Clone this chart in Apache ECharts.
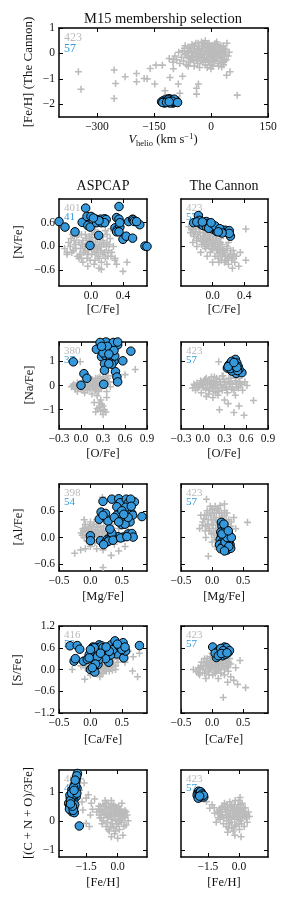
<!DOCTYPE html>
<html><head><meta charset="utf-8">
<script src="https://cdn.jsdelivr.net/npm/echarts@6/dist/echarts.min.js"></script>
<style>html,body{margin:0;padding:0;background:#fff}#c{width:291px;height:912px}</style>
</head><body><div id="c"></div>
<script>
// ---------------- data ----------------
const topGray = [[-349,-0.72],[-342,-1.41],[-255,-0.65],[-251,-1.18],[-255,-1.77],[-226,-0.92],[-196,-0.79],[-196,-1.11],[-160,-0.59],[-176,-0.99],[-168,-1.0],[-145,-0.46],[-148,-1.2],[-128,-0.46],[-121,-1.47],[-108,-0.95],[-99,-0.6],[-99,-0.24],[-86,-1.2],[-82,-1.57],[-75,-0.9],[-38,-1.37],[-33,-1.2],[-38,-1.6],[69,-1.64],[50,-0.72],[41,-0.86],[28,-0.53],
[-110,-0.2],[-100,-0.35],[-95,-0.1],[-90,-0.25],[-85,0.05],[-82,-0.4],[-78,-0.15],[-75,0.1],[-72,-0.3],[-70,0.2],[-68,-0.05],[-65,-0.45],[-62,0.05],[-60,0.25],[-58,-0.2],[-55,-0.35],[-52,0.1],[-50,0.35],[-48,-0.1],[-45,0.2],[-44,-0.5],[-42,0.0],[-40,0.4],[-38,-0.25],[-36,0.15],[-35,-0.4],[-32,0.3],[-30,-0.05],[-28,0.1],[-26,-0.3],[-25,0.45],[-22,0.2],[-20,-0.15],[-18,0.0],[-16,0.35],[-15,-0.45],[-12,0.1],[-10,-0.25],[-8,0.25],[-6,-0.05],[-5,0.4],[-3,-0.35],[0,0.15],[2,-0.15],[4,0.3],[5,-0.5],[8,0.05],[10,-0.3],[12,0.2],[14,-0.1],[16,0.35],[18,-0.4],[20,0.0],[22,0.25],[25,-0.2],[27,0.1],[30,-0.35],[32,0.3],[35,-0.05],[38,0.15],[40,-0.25],[42,0.4],[45,-0.1],[48,0.05],[-60,-0.5],[-30,-0.55],[0,-0.6],[15,0.45],[-15,0.5],[-45,-0.3],[-25,0.0],[-5,0.05],[10,0.1],
[-65,0.0],[-60,-0.15],[-55,0.2],[-50,-0.25],[-47,0.05],[-43,0.3],[-40,-0.15],[-37,0.0],[-33,-0.2],[-31,0.15],[-27,-0.1],[-24,0.3],[-21,-0.35],[-19,0.08],[-17,-0.2],[-14,0.22],[-11,-0.05],[-9,0.35],[-7,-0.3],[-4,0.15],[-2,-0.1],[1,0.3],[3,0.0],[6,-0.25],[7,0.2],[9,-0.05],[11,0.38],[13,-0.2],[15,0.1],[17,-0.3],[19,0.2],[21,-0.1],[23,0.05],[26,0.3],[28,-0.15],[31,0.0],[34,0.2],[36,-0.3],[39,0.05],[-52,-0.1],[-58,0.1],[-34,0.4],[-20,0.4],[0,-0.45],[20,-0.5],[33,-0.45],[-68,0.3],[-10,-0.55]];
const topBlue = [[-130,-1.9],[-125,-1.85],[-122,-1.95],[-118,-1.8],[-115,-1.88],[-112,-1.93],[-110,-1.78],[-108,-1.85],[-105,-1.9],[-103,-1.82],[-100,-1.95],[-98,-1.87],[-95,-1.92],[-92,-1.85],[-90,-1.9],[-120,-1.88],[-113,-1.83],[-107,-1.95],[-97,-1.8],[-127,-1.93],[-117,-1.92],[-102,-1.88],[-88,-1.93],[-110,-1.9]];

const nAspGray = [[-0.33,-0.05],[-0.3,-0.2],[-0.28,0.1],[-0.25,0.2],[-0.22,-0.1],[-0.2,0.05],[-0.18,0.25],[-0.17,-0.25],[-0.15,0.1],[-0.13,-0.05],[-0.12,0.3],[-0.1,0.15],[-0.09,-0.15],[-0.08,0.0],[-0.06,0.2],[-0.05,-0.3],[-0.04,0.08],[-0.03,-0.1],[-0.02,0.25],[0.0,0.0],[0.01,-0.2],[0.02,0.12],[0.03,-0.05],[0.04,0.35],[0.05,-0.35],[0.06,0.05],[0.07,-0.15],[0.08,0.2],[0.09,-0.25],[0.1,0.0],[0.11,0.1],[0.12,-0.1],[0.13,-0.4],[0.14,0.25],[0.15,-0.2],[0.16,0.05],[0.18,-0.3],[0.2,0.1],[0.22,-0.1],[0.24,0.2],[0.25,-0.25],[0.28,0.0],[0.3,-0.3],[-0.04,-0.5],[0.1,-0.55],[0.13,-0.58],[0.3,-0.35],[0.45,-0.4],[0.4,-0.63],[0.32,-0.45],[-0.3,-0.15],[-0.2,0.35],[0.05,0.42],[0.18,0.4],[-0.15,-0.3],[0.0,0.15],[-0.1,-0.4],[0.2,-0.45],[0.5,0.7],[0.38,0.5],[0.25,0.45],
[-0.26,0.0],[-0.24,-0.15],[-0.21,0.15],[-0.19,-0.05],[-0.16,0.3],[-0.14,-0.2],[-0.11,0.05],[-0.07,-0.1],[-0.07,0.3],[-0.04,-0.2],[-0.01,0.1],[-0.01,-0.35],[0.01,0.3],[0.03,0.05],[0.05,-0.15],[0.06,0.22],[0.08,-0.05],[0.1,-0.3],[0.11,0.3],[0.13,0.0],[0.15,0.15],[0.17,-0.15],[0.19,0.0],[0.21,-0.25],[0.23,0.05],[0.26,-0.15],[-0.12,-0.3],[0.04,-0.45],[-0.23,0.3],[0.2,0.3]];
const nAspBlue = [[-0.4,0.63],[-0.325,0.49],[-0.2,0.37],[-0.11,0.61],[-0.067,0.97],[-0.05,0.76],[-0.04,0.53],[-0.01,0.49],[-0.012,0.025],[0.0,0.76],[0.06,0.69],[0.07,0.6],[0.096,0.28],[0.12,0.69],[0.13,0.6],[0.17,0.7],[0.19,0.68],[0.17,0.6],[0.3,0.47],[0.32,0.73],[0.35,1.01],[0.35,0.69],[0.33,0.43],[0.36,0.49],[0.32,0.37],[0.35,0.37],[0.42,0.23],[0.4,0.18],[0.44,0.26],[0.47,0.63],[0.52,0.69],[0.53,0.67],[0.54,0.63],[0.52,0.21],[0.61,0.55],[0.675,0.01],[0.7,0.0],[0.57,0.63],[0.1,0.65],[0.03,0.72],[0.36,0.6]];
const nCanGray = [[-0.3,0.5],[-0.28,0.35],[-0.25,0.45],[-0.24,0.25],[-0.22,0.38],[-0.2,0.15],[-0.19,0.3],[-0.17,0.45],[-0.15,0.2],[-0.14,0.05],[-0.12,0.35],[-0.11,0.1],[-0.1,0.25],[-0.09,-0.05],[-0.08,0.15],[-0.06,0.3],[-0.05,0.0],[-0.04,0.2],[-0.03,-0.15],[-0.02,0.1],[0.0,-0.05],[0.0,0.25],[0.02,0.05],[0.03,-0.25],[0.04,0.15],[0.05,-0.1],[0.06,0.0],[0.07,-0.3],[0.08,0.1],[0.09,-0.15],[0.1,-0.05],[0.11,-0.35],[0.12,0.05],[0.13,-0.2],[0.14,-0.1],[0.15,-0.4],[0.16,-0.25],[0.18,-0.05],[0.19,-0.3],[0.2,-0.45],[0.22,-0.2],[0.24,-0.35],[0.26,-0.1],[0.28,-0.4],[0.3,-0.25],[0.35,-0.15],[0.42,0.44],[0.42,-0.35],[-0.15,-0.15],[-0.25,0.1],[0.0,-0.4],[0.05,0.3],[-0.07,-0.25],[0.2,0.1],[0.1,0.2],[0.33,-0.5],[0.25,-0.55],[-0.2,0.0],
[-0.27,0.42],[-0.23,0.3],[-0.21,0.45],[-0.18,0.2],[-0.16,0.35],[-0.13,0.12],[-0.12,0.25],[-0.09,0.35],[-0.07,0.05],[-0.06,0.18],[-0.03,0.3],[-0.01,-0.05],[0.01,0.15],[0.03,0.0],[0.05,0.2],[0.06,-0.18],[0.08,-0.05],[0.1,0.1],[0.12,-0.25],[0.13,-0.08],[0.15,-0.15],[0.17,-0.35],[0.18,0.0],[0.2,-0.25],[0.23,-0.1],[0.25,-0.3],[0.27,-0.2],[-0.1,0.0],[0.0,0.05],[0.08,-0.4]];
const nCanBlue = [[-0.24,0.6],[-0.18,0.78],[-0.17,0.66],[-0.16,0.58],[-0.14,0.56],[-0.12,0.53],[-0.1,0.61],[-0.08,0.63],[-0.08,0.5],[-0.06,0.58],[-0.04,0.53],[-0.02,0.5],[0.0,0.53],[0.0,0.44],[0.02,0.48],[0.04,0.46],[0.05,0.38],[0.06,0.42],[0.08,0.4],[0.1,0.36],[0.115,0.42],[0.14,0.4],[0.16,0.41],[0.18,0.36],[0.21,0.4],[0.225,0.26],[0.21,0.33],[-0.2,0.62],[-0.13,0.62],[-0.05,0.46],[0.03,0.52],[0.09,0.45],[0.12,0.34],[-0.02,0.6],[0.07,0.37]];

const naAspGray = [[-0.13,-0.05],[-0.1,0.05],[-0.08,-0.15],[-0.05,0.1],[-0.03,-0.1],[0.0,0.0],[0.02,0.15],[0.03,-0.2],[0.05,0.05],[0.07,-0.1],[0.08,0.2],[0.1,0.0],[0.12,-0.15],[0.13,0.1],[0.15,0.25],[0.16,-0.05],[0.18,0.15],[0.2,-0.2],[0.21,0.05],[0.23,0.3],[0.25,0.1],[0.26,-0.1],[0.28,0.2],[0.3,0.35],[0.32,0.05],[0.34,0.25],[0.37,0.4],[0.38,0.15],[0.4,-0.05],[0.05,-0.3],[0.15,-0.35],[0.22,-0.42],[0.27,-0.6],[0.28,-0.77],[0.25,-0.9],[0.3,-0.85],[0.2,-1.1],[0.3,-1.2],[0.34,-1.1],[0.22,-0.95],[0.18,-0.7],[0.35,-0.5],[-0.01,0.98],[0.74,0.66],[0.45,0.4],[0.6,0.45],[0.1,0.3],[-0.05,-0.25],[0.35,-0.25],[0.45,0.15],
[-0.11,0.0],[-0.06,-0.05],[-0.02,0.05],[0.01,-0.1],[0.04,0.1],[0.06,-0.05],[0.09,0.12],[0.11,-0.05],[0.14,0.05],[0.17,0.2],[0.19,0.0],[0.22,0.15],[0.24,-0.05],[0.27,0.1],[0.29,0.25],[0.31,0.0],[0.33,0.15],[0.36,0.3],[0.12,0.2],[0.2,0.3],[0.26,0.35],[0.0,-0.15],[0.09,-0.2],[0.18,-0.15],[0.24,-0.25],[0.28,-0.1],[0.25,-0.7],[0.32,-1.0],[0.27,-1.05]];
const naAspBlue = [[0.0,0.01],[-0.105,0.98],[0.04,0.49],[0.08,0.3],[0.21,1.5],[0.3,1.75],[0.28,1.19],[0.32,1.43],[0.33,1.25],[0.32,0.9],[0.32,0.63],[0.31,0.05],[0.37,1.75],[0.4,1.55],[0.42,1.35],[0.43,1.15],[0.4,1.15],[0.45,1.0],[0.46,1.75],[0.46,1.22],[0.5,1.68],[0.47,0.57],[0.49,0.35],[0.5,0.15],[0.57,1.02],[0.68,1.42],[0.34,1.8],[0.26,1.78],[0.44,1.78],[0.42,0.88],[0.38,0.9],[0.36,1.62],[0.3,1.35],[0.45,1.45],[0.38,1.3],[0.28,1.62],[0.5,1.8]];
const naCanGray = [[-0.14,-0.1],[-0.12,0.05],[-0.1,-0.2],[-0.08,0.1],[-0.05,-0.05],[-0.03,0.2],[-0.02,-0.3],[0.0,0.0],[0.02,0.15],[0.04,-0.15],[0.05,0.3],[0.07,0.05],[0.08,-0.35],[0.1,-0.1],[0.12,0.2],[0.13,0.0],[0.15,-0.25],[0.16,0.35],[0.18,0.1],[0.2,-0.1],[0.21,-0.4],[0.23,0.25],[0.25,0.0],[0.27,-0.2],[0.28,0.4],[0.3,0.15],[0.32,-0.05],[0.34,-0.3],[0.36,0.3],[0.38,0.1],[0.4,-0.15],[0.42,0.45],[0.45,0.2],[0.47,-0.05],[0.5,0.3],[0.52,0.05],[0.55,-0.2],[0.58,0.15],[0.61,0.0],[0.22,0.98],[0.7,-0.62],[0.43,-1.12],[0.57,-1.23],[0.5,-0.85],[0.23,-1.0],[0.14,-0.5],[0.3,-0.6],[0.35,-0.75],[0.05,-0.45],[0.45,-0.4],
[-0.11,0.0],[-0.07,-0.1],[-0.04,0.05],[-0.01,0.12],[0.01,-0.08],[0.03,0.25],[0.06,0.1],[0.09,-0.2],[0.09,0.22],[0.11,0.05],[0.14,-0.1],[0.15,0.15],[0.17,-0.05],[0.19,0.3],[0.2,0.05],[0.22,-0.25],[0.24,0.15],[0.26,-0.08],[0.29,0.25],[0.31,0.05],[0.33,-0.15],[0.35,0.15],[0.37,-0.05],[0.39,0.3],[0.41,0.05],[0.43,-0.2],[0.46,0.1],[0.49,-0.1],[0.51,0.15],[0.54,0.05],[0.12,0.35],[0.27,0.4],[0.18,-0.3]];
const naCanBlue = [[0.34,0.72],[0.39,0.95],[0.41,0.78],[0.44,1.0],[0.45,1.08],[0.47,0.93],[0.49,0.78],[0.43,0.64],[0.46,0.5],[0.54,0.53],[0.5,0.67],[0.4,0.6],[0.36,0.85],[0.42,0.88],[0.45,0.72],[0.38,0.7],[0.48,0.62],[0.44,0.82],[0.4,1.0],[0.47,0.75],[0.35,0.78],[0.43,0.95]];

const alAspGray = [[-0.15,0.1],[-0.12,0.2],[-0.1,0.0],[-0.08,0.3],[-0.06,0.12],[-0.05,-0.08],[-0.03,0.22],[-0.02,0.05],[0.0,0.35],[0.01,0.15],[0.02,-0.05],[0.04,0.25],[0.05,0.08],[0.07,-0.12],[0.08,0.18],[0.1,0.3],[0.11,0.02],[0.13,0.12],[0.15,-0.1],[0.16,0.25],[0.18,0.05],[0.2,0.15],[0.22,-0.05],[0.25,0.1],[0.28,0.2],[0.3,0.0],[0.33,0.1],[0.35,0.3],[-0.155,-0.28],[-0.25,-0.35],[0.2,-0.28],[0.33,-0.4],[-0.08,-0.25],[0.19,0.9],[0.2,-0.67],[0.45,-0.3],[0.55,-0.2],[0.4,0.4],[0.45,0.2],[-0.1,0.4],[0.1,-0.25],[0.0,-0.2],[0.25,0.35],[0.6,0.15],[0.38,-0.15],
[-0.13,0.05],[-0.11,0.15],[-0.07,0.05],[-0.04,0.15],[-0.01,0.25],[0.0,0.05],[0.03,0.15],[0.06,0.3],[0.06,0.0],[0.09,0.1],[0.12,0.22],[0.14,0.05],[0.17,0.15],[0.19,-0.05],[0.21,0.25],[0.23,0.08],[0.26,0.0],[0.29,0.12],[0.31,0.22],[0.03,-0.12],[-0.09,0.2],[0.12,-0.05],[-0.02,-0.12],[0.1,0.4],[0.3,-0.1]];
const alAspBlue = [[0.0,0.04],[0.0,-0.07],[0.2,0.81],[0.17,0.57],[0.14,0.41],[0.23,0.47],[0.28,0.37],[0.24,0.54],[0.34,0.86],[0.45,0.87],[0.47,0.78],[0.42,0.69],[0.48,0.55],[0.52,0.4],[0.5,0.29],[0.55,0.46],[0.57,0.86],[0.6,0.77],[0.62,0.58],[0.66,0.54],[0.67,0.5],[0.63,0.35],[0.7,0.8],[0.82,0.47],[0.64,0.86],[0.56,0.68],[0.16,-0.07],[0.26,-0.1],[0.27,-0.04],[0.31,0.0],[0.39,-0.02],[0.44,0.02],[0.34,0.06],[0.52,0.01],[0.6,0.08],[0.66,0.09],[0.68,0.01],[0.23,-0.12],[0.29,-0.08],[0.34,0.1],[0.31,0.19],[0.21,-0.16],[0.36,-0.06],[0.48,-0.01],[0.58,0.02],[0.42,0.5],[0.5,0.6],[0.38,0.45],[0.55,0.3],[0.45,0.35],[0.65,0.7],[0.2,0.5],[0.6,0.45],[0.53,0.52]];
const alCanGray = [[-0.2,0.2],[-0.15,0.35],[-0.12,0.5],[-0.1,0.25],[-0.08,0.6],[-0.06,0.4],[-0.05,0.15],[-0.03,0.7],[-0.02,0.5],[0.0,0.3],[0.01,0.62],[0.02,0.1],[0.03,0.45],[0.05,0.7],[0.06,0.2],[0.07,0.55],[0.08,0.35],[0.1,0.05],[0.1,0.65],[0.12,0.45],[0.13,0.25],[0.15,0.55],[0.16,-0.05],[0.17,0.4],[0.18,0.15],[0.2,0.5],[0.22,0.3],[0.23,-0.1],[0.25,0.2],[0.27,0.4],[0.28,0.0],[0.3,0.25],[-0.09,0.86],[0.57,0.34],[0.38,0.2],[-0.06,-0.42],[0.0,-0.1],[-0.1,0.0],[0.35,0.45],[0.05,-0.2],[0.2,0.75],[-0.18,0.5],
[-0.16,0.28],[-0.13,0.42],[-0.11,0.15],[-0.09,0.5],[-0.07,0.3],[-0.04,0.55],[-0.04,0.2],[-0.01,0.4],[0.0,0.65],[0.02,0.28],[0.04,0.55],[0.04,0.0],[0.06,0.4],[0.08,0.62],[0.09,0.15],[0.11,0.35],[0.12,0.55],[0.14,0.15],[0.16,0.45],[0.18,0.3],[0.2,0.6],[0.21,0.1],[0.23,0.4],[0.26,0.3],[0.28,0.15],[0.31,0.35],[0.13,0.72],[-0.01,0.08],[0.07,-0.05],[0.24,0.55]];
const alCanBlue = [[0.15,0.34],[0.16,0.25],[0.18,0.16],[0.21,0.08],[0.15,0.02],[0.13,-0.05],[0.17,-0.09],[0.27,0.06],[0.28,-0.05],[0.29,-0.16],[0.2,-0.21],[0.24,-0.28],[0.12,-0.16],[0.26,-0.12],[0.19,0.02],[0.23,-0.02],[0.14,0.12],[0.3,-0.24],[0.22,0.18],[0.25,0.1],[0.17,-0.2],[0.14,-0.25],[0.21,-0.1],[0.27,-0.2],[0.19,0.3],[0.24,0.0],[0.16,0.08],[0.31,0.0],[0.2,-0.3],[0.26,0.15]];

const sAspGray = [[-0.1,0.2],[-0.08,0.05],[-0.05,0.25],[-0.03,-0.05],[0.0,0.15],[0.02,0.3],[0.04,-0.1],[0.05,0.1],[0.07,0.25],[0.09,0.0],[0.1,0.18],[0.12,-0.08],[0.14,0.3],[0.15,0.08],[0.17,-0.12],[0.19,0.2],[0.2,0.02],[0.22,0.32],[0.24,0.12],[0.25,-0.05],[0.27,0.25],[0.29,0.05],[0.3,0.35],[0.32,0.15],[0.35,-0.02],[0.37,0.28],[0.4,0.1],[0.42,0.3],[-0.29,0.0],[-0.09,-0.27],[0.67,-0.04],[0.78,0.45],[0.68,0.35],[0.55,0.2],[0.4,0.0],[0.0,-0.15],[0.15,-0.2],[0.5,0.4],[0.6,0.5],[0.75,-0.2],[0.05,0.4],[-0.15,0.1],
[-0.07,0.12],[-0.04,0.08],[-0.01,0.2],[0.01,0.0],[0.03,0.15],[0.06,0.05],[0.08,0.2],[0.11,0.1],[0.13,0.0],[0.16,0.22],[0.18,0.1],[0.21,0.15],[0.23,0.0],[0.26,0.18],[0.28,0.1],[0.31,0.25],[0.33,0.05],[0.36,0.15],[0.38,0.35],[0.44,0.2],[0.1,-0.05],[0.2,-0.1],[0.3,-0.05]];
const sAspBlue = [[-0.325,0.655],[-0.21,0.66],[-0.17,0.56],[-0.26,0.23],[-0.24,0.3],[-0.11,0.23],[-0.05,0.28],[0.0,0.0],[0.07,-0.07],[0.04,0.62],[0.0,0.47],[0.02,0.37],[0.05,0.52],[0.1,0.45],[0.08,0.33],[0.09,0.23],[0.12,0.14],[0.14,0.68],[0.17,0.5],[0.23,0.55],[0.26,0.47],[0.29,0.2],[0.33,0.68],[0.39,0.79],[0.39,0.6],[0.42,0.43],[0.47,0.6],[0.52,0.74],[0.53,0.32],[0.56,0.51],[0.78,0.66],[0.03,0.58],[0.06,0.42],[0.12,0.6],[0.15,0.38],[0.2,0.45],[0.28,0.55],[0.32,0.4],[0.36,0.55],[0.45,0.65],[0.05,0.28],[-0.02,0.4],[0.1,0.55],[0.18,0.65],[0.24,0.3],[0.5,0.55],[0.13,0.27],[0.06,0.6],[0.0,0.55],[0.11,0.35],[-0.02,0.32],[0.08,0.15],[0.03,0.05],[0.2,0.6],[0.3,0.5],[0.43,0.7],[0.55,0.62],[0.16,0.45],[0.25,0.62]];
const sCanGray = [[-0.25,-0.05],[-0.22,0.05],[-0.2,-0.15],[-0.18,0.1],[-0.15,0.0],[-0.13,0.2],[-0.12,-0.1],[-0.1,0.1],[-0.08,0.3],[-0.06,-0.05],[-0.05,0.15],[-0.03,0.35],[-0.02,0.0],[0.0,0.2],[0.01,-0.15],[0.03,0.1],[0.04,0.4],[0.05,0.25],[0.07,-0.05],[0.08,0.15],[0.1,0.35],[0.11,0.05],[0.13,0.25],[0.14,-0.1],[0.16,0.15],[0.18,0.4],[0.2,0.0],[0.22,0.25],[0.24,0.1],[0.26,-0.05],[0.28,0.3],[0.3,0.15],[-0.3,0.0],[0.41,-0.41],[0.54,-0.5],[0.18,-0.77],[0.35,-0.3],[0.3,-0.2],[0.45,0.25],[0.38,0.05],[0.25,-0.35],[0.1,-0.25],[-0.1,-0.25],[0.0,0.45],
[-0.22,-0.1],[-0.19,0.02],[-0.17,0.2],[-0.14,0.1],[-0.11,0.0],[-0.09,0.2],[-0.07,0.1],[-0.04,0.05],[-0.03,0.25],[-0.01,0.12],[0.0,0.35],[0.02,0.05],[0.04,0.2],[0.06,0.1],[0.07,0.35],[0.09,0.22],[0.1,0.0],[0.12,0.15],[0.14,0.3],[0.15,0.05],[0.17,0.25],[0.19,0.1],[0.21,0.35],[0.23,0.2],[0.25,0.05],[0.27,0.2],[-0.05,-0.15],[0.05,-0.1],[-0.12,0.3],[0.2,-0.15]];
const sCanBlue = [[0.01,0.62],[0.09,0.5],[0.11,0.42],[0.07,0.33],[0.13,0.55],[0.19,0.56],[0.21,0.5],[0.25,0.55],[0.26,0.47],[0.16,0.47],[0.2,0.62],[0.12,0.48],[0.23,0.6],[0.05,0.45],[0.17,0.38],[0.14,0.58],[0.22,0.42],[0.18,0.52],[0.28,0.52],[0.1,0.38],[0.15,0.44],[0.24,0.46]];

const cnoAspGray = [[-1.78,1.45],[-1.6,1.3],[-1.82,1.05],[-1.5,0.78],[-1.26,0.6],[-1.66,0.37],[-1.5,-0.09],[-1.35,-0.2],[-1.4,0.9],[-1.7,0.65],[-1.2,0.4],[-1.1,0.75],[-1.3,0.2],
[-1.0,0.3],[-0.9,0.5],[-0.85,0.1],[-0.8,0.35],[-0.75,-0.1],[-0.7,0.55],[-0.65,0.2],[-0.6,0.4],[-0.55,-0.2],[-0.5,0.1],[-0.45,0.6],[-0.42,0.3],[-0.4,-0.35],[-0.35,0.45],[-0.3,0.05],[-0.28,0.25],[-0.25,-0.1],[-0.2,0.55],[-0.18,0.35],[-0.15,-0.45],[-0.12,0.15],[-0.1,0.45],[-0.05,-0.2],[0.0,0.3],[0.02,0.05],[0.05,0.5],[0.08,-0.3],[0.1,0.2],[0.15,0.4],[0.18,-0.05],[0.2,0.25],[0.25,-0.5],[0.3,0.1],[0.35,0.35],[0.4,-0.15],[0.45,0.2],[0.5,0.0],[-0.3,-0.55],[0.0,-0.6],[-0.6,0.7],[-0.3,0.7],[0.2,0.6],
[-0.92,0.4],[-0.88,0.2],[-0.82,0.5],[-0.78,0.1],[-0.72,0.3],[-0.68,0.0],[-0.62,0.5],[-0.58,0.25],[-0.52,0.4],[-0.48,-0.05],[-0.44,0.15],[-0.4,0.45],[-0.36,0.2],[-0.33,-0.2],[-0.3,0.35],[-0.26,0.5],[-0.22,0.15],[-0.2,-0.25],[-0.16,0.25],[-0.13,0.5],[-0.1,0.0],[-0.08,0.3],[-0.04,-0.1],[-0.02,0.45],[0.02,0.2],[0.05,-0.1],[0.08,0.35],[0.12,0.0],[0.15,0.2],[0.2,0.05],[0.25,0.3],[0.3,-0.2],[0.35,0.15],[0.4,0.3],[-0.55,0.6],[-0.1,-0.35],[-0.45,-0.3]];
const cnoAspBlue = [[-1.83,-0.18],[-1.92,1.63],[-1.98,1.46],[-2.07,1.23],[-2.18,1.06],[-2.02,1.0],[-1.94,1.12],[-2.26,0.77],[-2.13,0.6],[-2.34,0.6],[-2.22,0.48],[-2.1,0.43],[-2.18,0.31],[-2.07,0.28],[-2.29,0.5],[-1.98,0.83],[-2.1,0.71],[-2.0,1.34],[-2.13,0.94],[-2.28,0.88],[-2.2,0.65],[-2.05,0.55],[-2.15,0.82],[-2.0,1.2],[-1.95,1.55],[-2.1,1.15],[-2.25,0.7],[-2.3,0.4],[-2.12,0.36],[-2.05,0.9],[-2.2,0.95],[-1.95,0.95],[-2.03,1.4],[-2.08,1.05],[-2.16,0.5],[-2.25,0.58]];
const cnoCanGray = [[-1.57,0.66],[-1.41,0.43],[-1.17,0.26],[-1.3,0.55],[-1.0,0.1],[-1.1,-0.05],[-0.95,0.4],
[-0.95,0.25],[-0.9,0.05],[-0.85,0.45],[-0.8,0.2],[-0.75,-0.1],[-0.7,0.6],[-0.65,0.3],[-0.6,0.0],[-0.55,0.45],[-0.5,-0.25],[-0.48,0.15],[-0.45,0.65],[-0.4,0.35],[-0.38,-0.05],[-0.35,0.5],[-0.3,0.2],[-0.28,-0.35],[-0.25,0.4],[-0.2,0.05],[-0.18,0.7],[-0.15,-0.15],[-0.1,0.3],[-0.05,0.55],[0.0,0.1],[0.02,-0.3],[0.05,0.4],[0.1,0.15],[0.12,-0.1],[0.15,0.6],[0.2,0.3],[0.25,-0.2],[0.3,0.45],[0.35,0.1],[0.4,-0.05],[0.45,0.3],[0.5,0.15],[-0.2,-0.5],[0.1,-0.55],[0.05,0.8],[-0.55,-0.4],
[-0.92,0.35],[-0.88,0.15],[-0.83,0.3],[-0.78,0.5],[-0.73,0.1],[-0.68,0.4],[-0.63,0.2],[-0.58,0.55],[-0.53,0.1],[-0.5,0.35],[-0.46,-0.1],[-0.43,0.25],[-0.38,0.55],[-0.35,0.05],[-0.32,0.35],[-0.27,0.15],[-0.23,0.55],[-0.2,-0.2],[-0.17,0.25],[-0.13,0.45],[-0.1,0.05],[-0.07,0.2],[-0.03,0.4],[0.0,-0.1],[0.03,0.25],[0.07,0.55],[0.08,0.0],[0.12,0.35],[0.17,0.1],[0.22,0.45],[0.27,0.15],[0.32,0.3],[0.38,0.2],[-0.6,-0.2],[-0.35,-0.25],[0.0,0.7],[-1.2,0.45],[-1.05,0.3]];
const cnoCanBlue = [[-2.0,0.95],[-1.95,1.02],[-1.9,0.98],[-1.85,0.92],[-1.8,0.88],[-1.95,0.85],[-1.88,0.8],[-1.75,0.85],[-1.7,0.82],[-2.02,0.88],[-1.92,0.9],[-1.82,0.97],[-1.97,0.78],[-1.86,1.0],[-1.78,0.92],[-1.72,0.88],[-1.9,0.85]];

// tick values
const topXTicks = [-300,-150,0,150];
const topYTicks = [-2,-1,0,1];
const cfeTicks = [0.0,0.4];
const nfeTicks = [-0.6,0.0,0.6];
const ofeTicks = [-0.3,0.0,0.3,0.6,0.9];
const nafeTicks = [-1,0,1];
const mgfeTicks = [-0.5,0.0,0.5];
const alfeTicks = [-0.6,0.0,0.6];
const cafeTicks = [-0.5,0.0,0.5];
const sfeTicks = [-1.2,-0.6,0.0,0.6,1.2];
const fehTicks = [-1.5,0.0];
const cnoTicks = [-1,0,1];

// counts
const counts = {
  top: ['423','57'],
  n: [['401','41'],['423','57']],
  na: [['380','37'],['423','57']],
  al: [['398','54'],['423','57']],
  s: [['416','59'],['423','57']],
  cno: [['401','41'],['423','57']]
};

// ---------------- build ----------------
const FONT = '"Liberation Serif","DejaVu Serif",serif';
const GRAY = '#bbbbbb', BLUE = '#3498db';
const PLUS = 'path://M3.9,0H6.1V3.9H10V6.1H6.1V10H3.9V6.1H0V3.9H3.9Z';
const grids = [], xAxes = [], yAxes = [], series = [], graphic = [];

function fmt(d){ return v => { let s = (+v).toFixed(d); if (parseFloat(s) === 0) s = (0).toFixed(d); return s.replace('-', '\u2212'); }; }

function axis(i, pos, min, max, ticks, dec, showLab){
  return {
    gridIndex: i, type: 'value', position: pos, min: min, max: max,
    axisLine: {show: true, onZero: false, lineStyle: {color: '#000', width: 1.5}},
    axisTick: {show: true, inside: true, length: 4, customValues: ticks, lineStyle: {color: '#000', width: 1}},
    axisLabel: {show: showLab, customValues: ticks, formatter: fmt(dec), margin: 4,
      fontFamily: FONT, fontSize: 11.5, color: '#111', hideOverlap: false},
    splitLine: {show: false}
  };
}

function panel(box, xr, xt, xd, yr, yt, yd, showY, gray, blue, cnt, cntSize){
  const i = grids.length;
  grids.push({left: box[0], top: box[1], width: box[2], height: box[3], containLabel: false});
  const xi = xAxes.length, yi = yAxes.length;
  xAxes.push(axis(i, 'bottom', xr[0], xr[1], xt, xd, true));
  xAxes.push(axis(i, 'top', xr[0], xr[1], xt, xd, false));
  yAxes.push(axis(i, 'left', yr[0], yr[1], yt, yd, showY));
  yAxes.push(axis(i, 'right', yr[0], yr[1], yt, yd, false));
  series.push({type: 'scatter', xAxisIndex: xi, yAxisIndex: yi, data: gray, symbol: PLUS, symbolSize: 7,
    itemStyle: {color: GRAY, opacity: 1}, silent: true, z: 2});
  series.push({type: 'scatter', xAxisIndex: xi, yAxisIndex: yi, data: blue, symbol: 'circle', symbolSize: 8.5,
    itemStyle: {color: BLUE, borderColor: '#000', borderWidth: 1, opacity: 1}, silent: true, z: 3});
  const fs = cntSize;
  graphic.push({type: 'text', x: box[0] + 5, y: box[1] + (fs > 11.5 ? 10 : 9), z: 1,
    style: {text: cnt[0], fill: GRAY, font: fs + 'px ' + FONT, textAlign: 'left', textVerticalAlign: 'middle'}});
  graphic.push({type: 'text', x: box[0] + 5, y: box[1] + (fs > 11.5 ? 21 : 18), z: 1,
    style: {text: cnt[1], fill: BLUE, font: fs + 'px ' + FONT, textAlign: 'left', textVerticalAlign: 'middle'}});
}

function txt(text, x, y, size, rot){
  graphic.push({type: 'text', x: x, y: y, rotation: rot || 0, z: 1,
    style: {text: text, fill: '#111', font: size + 'px ' + FONT, textAlign: 'center', textVerticalAlign: 'middle'}});
}

// top panel
panel([59, 28, 209, 89], [-400, 150], topXTicks, 0, [-2.5, 1], topYTicks, 0, true, topGray, topBlue, counts.top, 12);
txt('M15 membership selection', 163, 19, 14.5);
txt('[Fe/H] (The Cannon)', 29, 72, 13, Math.PI / 2);
graphic.push({type: 'text', x: 163, y: 140, z: 1,
  style: {text: '{i|V}{s|helio} (km s{p|\u22121})', fill: '#111', font: '12.5px ' + FONT,
    textAlign: 'center', textVerticalAlign: 'middle',
    rich: {i: {fontFamily: FONT, fontSize: 12.5, fontStyle: 'italic', verticalAlign: 'middle', lineHeight: 16},
           s: {fontFamily: FONT, fontSize: 8.5, verticalAlign: 'bottom', lineHeight: 16},
           p: {fontFamily: FONT, fontSize: 8.5, verticalAlign: 'top', lineHeight: 16}}}});

txt('ASPCAP', 103, 186, 14);
txt('The Cannon', 224, 186, 14);

const LX = 59, RX = 181, W = 88, WR = 87, H = 87;
const rows = [199, 342, 484, 626, 770];

// row 1
panel([LX, rows[0], W, H], [-0.4, 0.7], cfeTicks, 1, [-1.0, 1.2], nfeTicks, 1, true, nAspGray, nAspBlue, counts.n[0], 11);
panel([RX, rows[0], WR, H], [-0.4, 0.7], cfeTicks, 1, [-1.0, 1.2], nfeTicks, 1, false, nCanGray, nCanBlue, counts.n[1], 11);
txt('[N/Fe]', 19, rows[0] + 43, 12.5, Math.PI / 2);
txt('[C/Fe]', 103, 310, 12.5); txt('[C/Fe]', 224, 310, 12.5);

// row 2
panel([LX, rows[1], W, H], [-0.3, 0.9], ofeTicks, 1, [-1.8, 1.8], nafeTicks, 0, true, naAspGray, naAspBlue, counts.na[0], 11);
panel([RX, rows[1], WR, H], [-0.3, 0.9], ofeTicks, 1, [-1.8, 1.8], nafeTicks, 0, false, naCanGray, naCanBlue, counts.na[1], 11);
txt('[Na/Fe]', 30, rows[1] + 43, 12.5, Math.PI / 2);
txt('[O/Fe]', 103, 454, 12.5); txt('[O/Fe]', 224, 454, 12.5);

// row 3
panel([LX, rows[2], W, H], [-0.5, 0.9], mgfeTicks, 1, [-0.75, 1.2], alfeTicks, 1, true, alAspGray, alAspBlue, counts.al[0], 11);
panel([RX, rows[2], WR, H], [-0.5, 0.9], mgfeTicks, 1, [-0.75, 1.2], alfeTicks, 1, false, alCanGray, alCanBlue, counts.al[1], 11);
txt('[Al/Fe]', 19, rows[2] + 43, 12.5, Math.PI / 2);
txt('[Mg/Fe]', 103, 597, 12.5); txt('[Mg/Fe]', 224, 597, 12.5);

// row 4
panel([LX, rows[3], W, H], [-0.5, 0.9], cafeTicks, 1, [-1.2, 1.2], sfeTicks, 1, true, sAspGray, sAspBlue, counts.s[0], 11);
panel([RX, rows[3], WR, H], [-0.5, 0.9], cafeTicks, 1, [-1.2, 1.2], sfeTicks, 1, false, sCanGray, sCanBlue, counts.s[1], 11);
txt('[S/Fe]', 18, rows[3] + 44, 12.5, Math.PI / 2);
txt('[Ca/Fe]', 103, 740, 12.5); txt('[Ca/Fe]', 224, 740, 12.5);

// row 5
panel([LX, rows[4], W, H], [-2.8, 1.4], fehTicks, 1, [-1.25, 1.75], cnoTicks, 0, true, cnoAspGray, cnoAspBlue, counts.cno[0], 11);
panel([RX, rows[4], WR, H], [-2.8, 1.4], fehTicks, 1, [-1.25, 1.75], cnoTicks, 0, false, cnoCanGray, cnoCanBlue, counts.cno[1], 11);
txt('[(C + N + O)/3Fe]', 29, rows[4] + 43, 12.5, Math.PI / 2);
txt('[Fe/H]', 103, 883, 12.5); txt('[Fe/H]', 224, 883, 12.5);

const chart = echarts.init(document.getElementById('c'), null, {renderer: 'canvas'});
chart.setOption({animation: false, backgroundColor: '#fff', grid: grids, xAxis: xAxes, yAxis: yAxes, series: series, graphic: graphic});
</script></body></html>
